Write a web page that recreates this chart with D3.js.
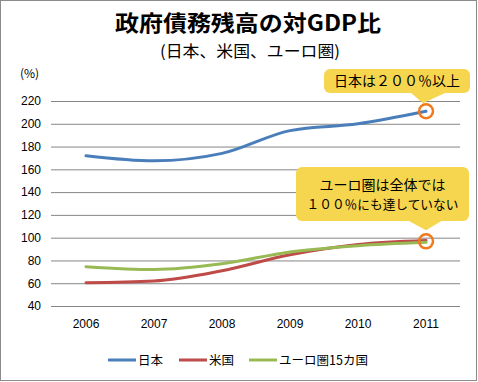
<!DOCTYPE html>
<html>
<head>
<meta charset="utf-8">
<script src="https://cdn.jsdelivr.net/npm/d3@7"></script>
<style>
  body { margin: 0; background: #fff; }
  svg { display: block; }
  text { font-family: "Noto Sans CJK JP", "Noto Sans", sans-serif; fill: #000; }
  .tick text { font-family: "Liberation Sans", "DejaVu Sans", sans-serif; font-size: 12px; }
</style>
</head>
<body>
<svg id="chart" width="478" height="382"></svg>
<script>
const years = ["2006", "2007", "2008", "2009", "2010", "2011"]
const japan = [172, 167.5, 174, 194, 200, 211]
const usa = [60.5, 62, 71, 85, 94, 97.5]
const euro = [74.5, 72, 77, 87.5, 93, 96]
const yTicks = [40, 60, 80, 100, 120, 140, 160, 180, 200, 220]

const seriesNames = ["日本", "米国", "ユーロ圏15カ国"]
const seriesColors = ["#4a7ebb", "#be4b48", "#98b954"]
const series = [japan, usa, euro]

const svg = d3.select("#chart")

// outer frame
svg.append("rect")
  .attr("x", 0.5).attr("y", 0.5).attr("width", 476).attr("height", 380)
  .attr("fill", "#fff").attr("stroke", "#8c8c8c")

// titles
svg.append("text").attr("x", 248).attr("y", 31).attr("text-anchor", "middle")
  .style("font-size", "22px").style("font-weight", "bold")
  .attr("textLength", 266).attr("lengthAdjust", "spacingAndGlyphs")
  .text("政府債務残高の対GDP比")
svg.append("text").attr("x", 250).attr("y", 57).attr("text-anchor", "middle")
  .style("font-size", "16px")
  .attr("textLength", 180).attr("lengthAdjust", "spacingAndGlyphs")
  .text("(日本、米国、ユーロ圏)")
svg.append("text").attr("x", 20).attr("y", 78)
  .style("font-size", "12px")
  .text("(%)")

const x = d3.scaleBand().domain(years).range([52, 460])
const y = d3.scaleLinear().domain([40, 220]).range([306, 101])

// gridlines + y axis
const yAxis = svg.append("g")
  .attr("transform", "translate(52,0)")
  .call(d3.axisLeft(y).tickValues(yTicks).tickSize(-408).tickPadding(11))
yAxis.select(".domain").remove()
yAxis.selectAll(".tick line").attr("stroke", "#868686").attr("x1", -1)

// x axis
const xAxis = svg.append("g")
  .attr("transform", "translate(0,306)")
  .call(d3.axisBottom(x).tickSize(0).tickPadding(13))
xAxis.select(".domain").remove()

const line = d3.line()
  .x((d, i) => x(years[i]) + x.bandwidth() / 2)
  .y(d => y(d))
  .curve(d3.curveMonotoneX)

series.forEach((s, k) => {
  svg.append("path")
    .datum(s)
    .attr("d", line)
    .attr("fill", "none")
    .attr("stroke", seriesColors[k])
    .attr("stroke-width", 3)
    .attr("stroke-linecap", "round")
})

// callouts
function callout(bx, by, bw, bh, p1, p2, tip, lines, sizes) {
  const g = svg.append("g")
  g.append("rect").attr("x", bx).attr("y", by).attr("width", bw).attr("height", bh)
    .attr("rx", 6).attr("fill", "#f6d64f")
  g.append("path")
    .attr("d", `M${p1},${by + bh - 1}L${tip[0]},${tip[1]}L${p2},${by + bh - 1}Z`)
    .attr("fill", "#f6d64f")
  lines.forEach((t, i) => {
    g.append("text").attr("x", bx + bw / 2).attr("y", by + bh / 2 + 5 + (i - (lines.length - 1) / 2) * 19)
      .attr("text-anchor", "middle").style("font-size", sizes[i] + "px")
      .text(t)
  })
}

const last = years.length - 1
const cx = x(years[last]) + x.bandwidth() / 2

callout(324, 69, 146, 24, 410, 447, [cx - 3, y(japan[last]) - 8], ["日本は２００％以上"], [14])
callout(296, 167, 173, 54, 407, 443, [cx, y(euro[last]) - 12], ["ユーロ圏は全体では", "１００％にも達していない"], [14, 12.7])

// highlight circles
svg.append("circle").attr("cx", cx).attr("cy", y(japan[last]))
  .attr("r", 7).attr("fill", "none").attr("stroke", "#f07a1c").attr("stroke-width", 2.5)
svg.append("circle").attr("cx", cx).attr("cy", y((usa[last] + euro[last]) / 2))
  .attr("r", 7).attr("fill", "none").attr("stroke", "#f07a1c").attr("stroke-width", 2.5)

// legend
const legendX = [108, 179, 249]
const legend = svg.append("g")
seriesNames.forEach((name, k) => {
  legend.append("line")
    .attr("x1", legendX[k]).attr("x2", legendX[k] + 28)
    .attr("y1", 360).attr("y2", 360)
    .attr("stroke", seriesColors[k]).attr("stroke-width", 3)
  legend.append("text")
    .attr("x", legendX[k] + 30).attr("y", 365)
    .style("font-size", "12.5px")
    .text(name)
})
</script>
</body>
</html>
